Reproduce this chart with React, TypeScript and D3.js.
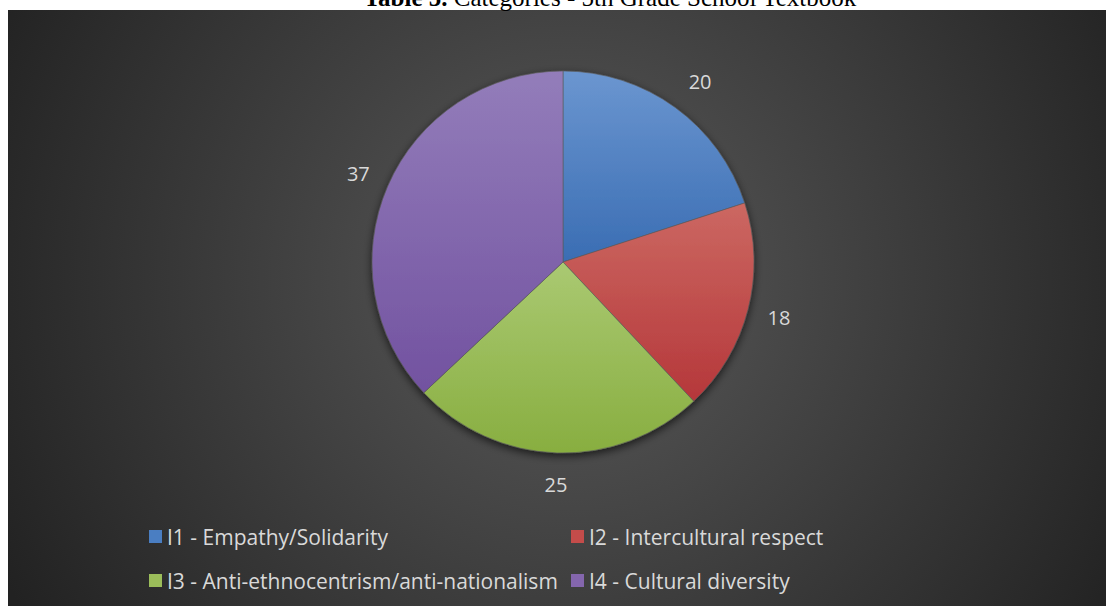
import React from "react";
import * as d3 from "d3";

const categories = [
  "I1 - Empathy/Solidarity",
  "I2 - Intercultural respect",
  "I3 - Anti-ethnocentrism/anti-nationalism",
  "I4 - Cultural diversity",
];
const values = [20, 18, 25, 37];
const topColors = ["#6b96d0", "#cc6862", "#aac972", "#937dba"];
const bottomColors = ["#3a6db3", "#b5373a", "#88ae40", "#7252a0"];
const legendColors = ["#4a7ec2", "#c44c4a", "#9bbd5a", "#8466ad"];

const W = 1106;
const H = 606;
const cx = 563;
const cy = 262;
const R = 191;
const labelR = 223;

export default function App() {
  const pie = d3.pie<number>().sort(null).value((d) => d)(values);
  const arc = d3.arc<d3.PieArcDatum<number>>().innerRadius(0).outerRadius(R);
  const labelArc = d3.arc<d3.PieArcDatum<number>>().innerRadius(labelR).outerRadius(labelR);

  const legendPos = [
    { x: 149, y: 537 },
    { x: 571, y: 537 },
    { x: 149, y: 581 },
    { x: 571, y: 581 },
  ];

  return (
    <svg
      width={W}
      height={H}
      style={{ position: "absolute", left: 0, top: 0, display: "block" }}
    >
      <defs>
        <radialGradient id="bg" gradientUnits="userSpaceOnUse" cx={570} cy={280} r={640}>
          <stop offset="0" stopColor="#5a5a5a" />
          <stop offset="1" stopColor="#222222" />
        </radialGradient>
        {values.map((_, i) => (
          <linearGradient key={i} id={`g${i}`} x1="0" y1="0" x2="0" y2="1">
            <stop offset="0" stopColor={topColors[i]} />
            <stop offset="1" stopColor={bottomColors[i]} />
          </linearGradient>
        ))}
        <filter id="shadow" x="-20%" y="-20%" width="140%" height="140%">
          <feDropShadow dx="0" dy="3" stdDeviation="4" floodColor="#000" floodOpacity="0.65" />
        </filter>
      </defs>
      <rect x={0} y={0} width={W} height={H} fill="#ffffff" />
      <rect x={8} y={10} width={W - 8} height={H - 10} fill="url(#bg)" />
      <text
        x={610}
        y={6}
        textAnchor="middle"
        fontFamily="'Liberation Serif', serif"
        fontSize={25}
        fill="#000"
      >
        <tspan fontWeight="bold">Table 5.</tspan>
        <tspan> Categories - 5th Grade School Textbook</tspan>
      </text>
      <g transform={`translate(${cx},${cy})`}>
        <g filter="url(#shadow)">
          {pie.map((p, i) => (
            <path key={i} d={arc(p) || ""} fill={`url(#g${i})`} stroke="#5a5a5a" strokeWidth={0.6} />
          ))}
        </g>
        {pie.map((p, i) => {
          const [lx, ly] = labelArc.centroid(p);
          return (
            <text
              key={i}
              x={lx + (i === 0 ? 6 : 0)}
              y={ly}
              textAnchor="middle"
              dominantBaseline="central"
              fontFamily="'Open Sans', sans-serif"
              fontSize={20}
              fill="#d9d9d9"
            >
              {values[i]}
            </text>
          );
        })}
      </g>
      {categories.map((c, i) => (
        <g key={c} transform={`translate(${legendPos[i].x},${legendPos[i].y})`}>
          <rect x={0} y={-7} width={13} height={13} fill={legendColors[i]} />
          <text
            x={18}
            y={0}
            dominantBaseline="central"
            fontFamily="'Open Sans', sans-serif"
            fontSize={21}
            fill="#d9d9d9"
          >
            {c}
          </text>
        </g>
      ))}
    </svg>
  );
}
